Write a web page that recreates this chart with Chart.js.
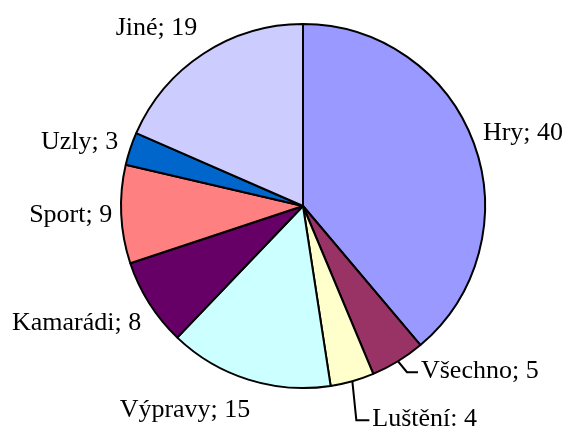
<!DOCTYPE html>
<html>
<head>
<meta charset="utf-8">
<script src="https://cdn.jsdelivr.net/npm/chart.js@4"></script>
<style>
  body { margin: 0; background: #fff; }
  canvas { display: block; }
</style>
</head>
<body>
<canvas id="pieChart" width="564" height="430"></canvas>
<script>
// data
const categories = ['Hry', 'Všechno', 'Luštění', 'Výpravy', 'Kamarádi', 'Sport', 'Uzly', 'Jiné'];
const values = [40, 5, 4, 15, 8, 9, 3, 19];
const separators = [';', ';', ':', ';', ';', ';', ';', ';'];
const sliceColors = ['#9999FF', '#993366', '#FFFFCC', '#CCFFFF', '#660066', '#FF8080', '#0066CC', '#CCCCFF'];

// label placement relative to the outer middle of each slice: [dx, dy, align]
const labelNudge = [
  [9, -10, 'left'],
  [23, 10, 'left'],
  [20, 38, 'left'],
  [2, 31, 'right'],
  [-8, 20, 'right'],
  [-9, 1, 'right'],
  [-12, -7, 'right'],
  [-6, -26, 'right']
];
// leader lines (elbow and end, relative to the slice edge)
const leaders = {
  1: [[9, 11], [20, 11]],
  2: [[4, 39], [17, 39]]
};

const labelPlugin = {
  id: 'sliceLabels',
  afterDatasetsDraw(chart) {
    const ctx = chart.ctx;
    const meta = chart.getDatasetMeta(0);
    ctx.save();
    ctx.font = '26px "Liberation Serif", "Times New Roman", serif';
    ctx.fillStyle = '#000';
    ctx.strokeStyle = '#000';
    ctx.lineWidth = 2;
    ctx.textBaseline = 'middle';
    meta.data.forEach((arc, i) => {
      const p = arc.getProps(['x', 'y', 'startAngle', 'endAngle', 'outerRadius'], true);
      const mid = (p.startAngle + p.endAngle) / 2;
      const ex = p.x + Math.cos(mid) * p.outerRadius;
      const ey = p.y + Math.sin(mid) * p.outerRadius;
      if (leaders[i]) {
        ctx.beginPath();
        ctx.moveTo(ex, ey);
        leaders[i].forEach(pt => ctx.lineTo(ex + pt[0], ey + pt[1]));
        ctx.stroke();
      }
      const n = labelNudge[i];
      ctx.textAlign = n[2];
      ctx.fillText(categories[i] + separators[i] + ' ' + values[i], ex + n[0], ey + n[1]);
    });
    ctx.restore();
  }
};

const ctx = document.getElementById('pieChart').getContext('2d');
const pieChart = new Chart(ctx, {
  type: 'pie',
  data: {
    labels: categories,
    datasets: [{
      data: values,
      backgroundColor: sliceColors,
      borderColor: '#000',
      borderWidth: 2
    }]
  },
  options: {
    responsive: false,
    animation: false,
    layout: { padding: { top: 23, bottom: 41, left: 120, right: 78 } },
    plugins: {
      legend: { display: false },
      tooltip: { enabled: false }
    }
  },
  plugins: [labelPlugin]
});
</script>
</body>
</html>
